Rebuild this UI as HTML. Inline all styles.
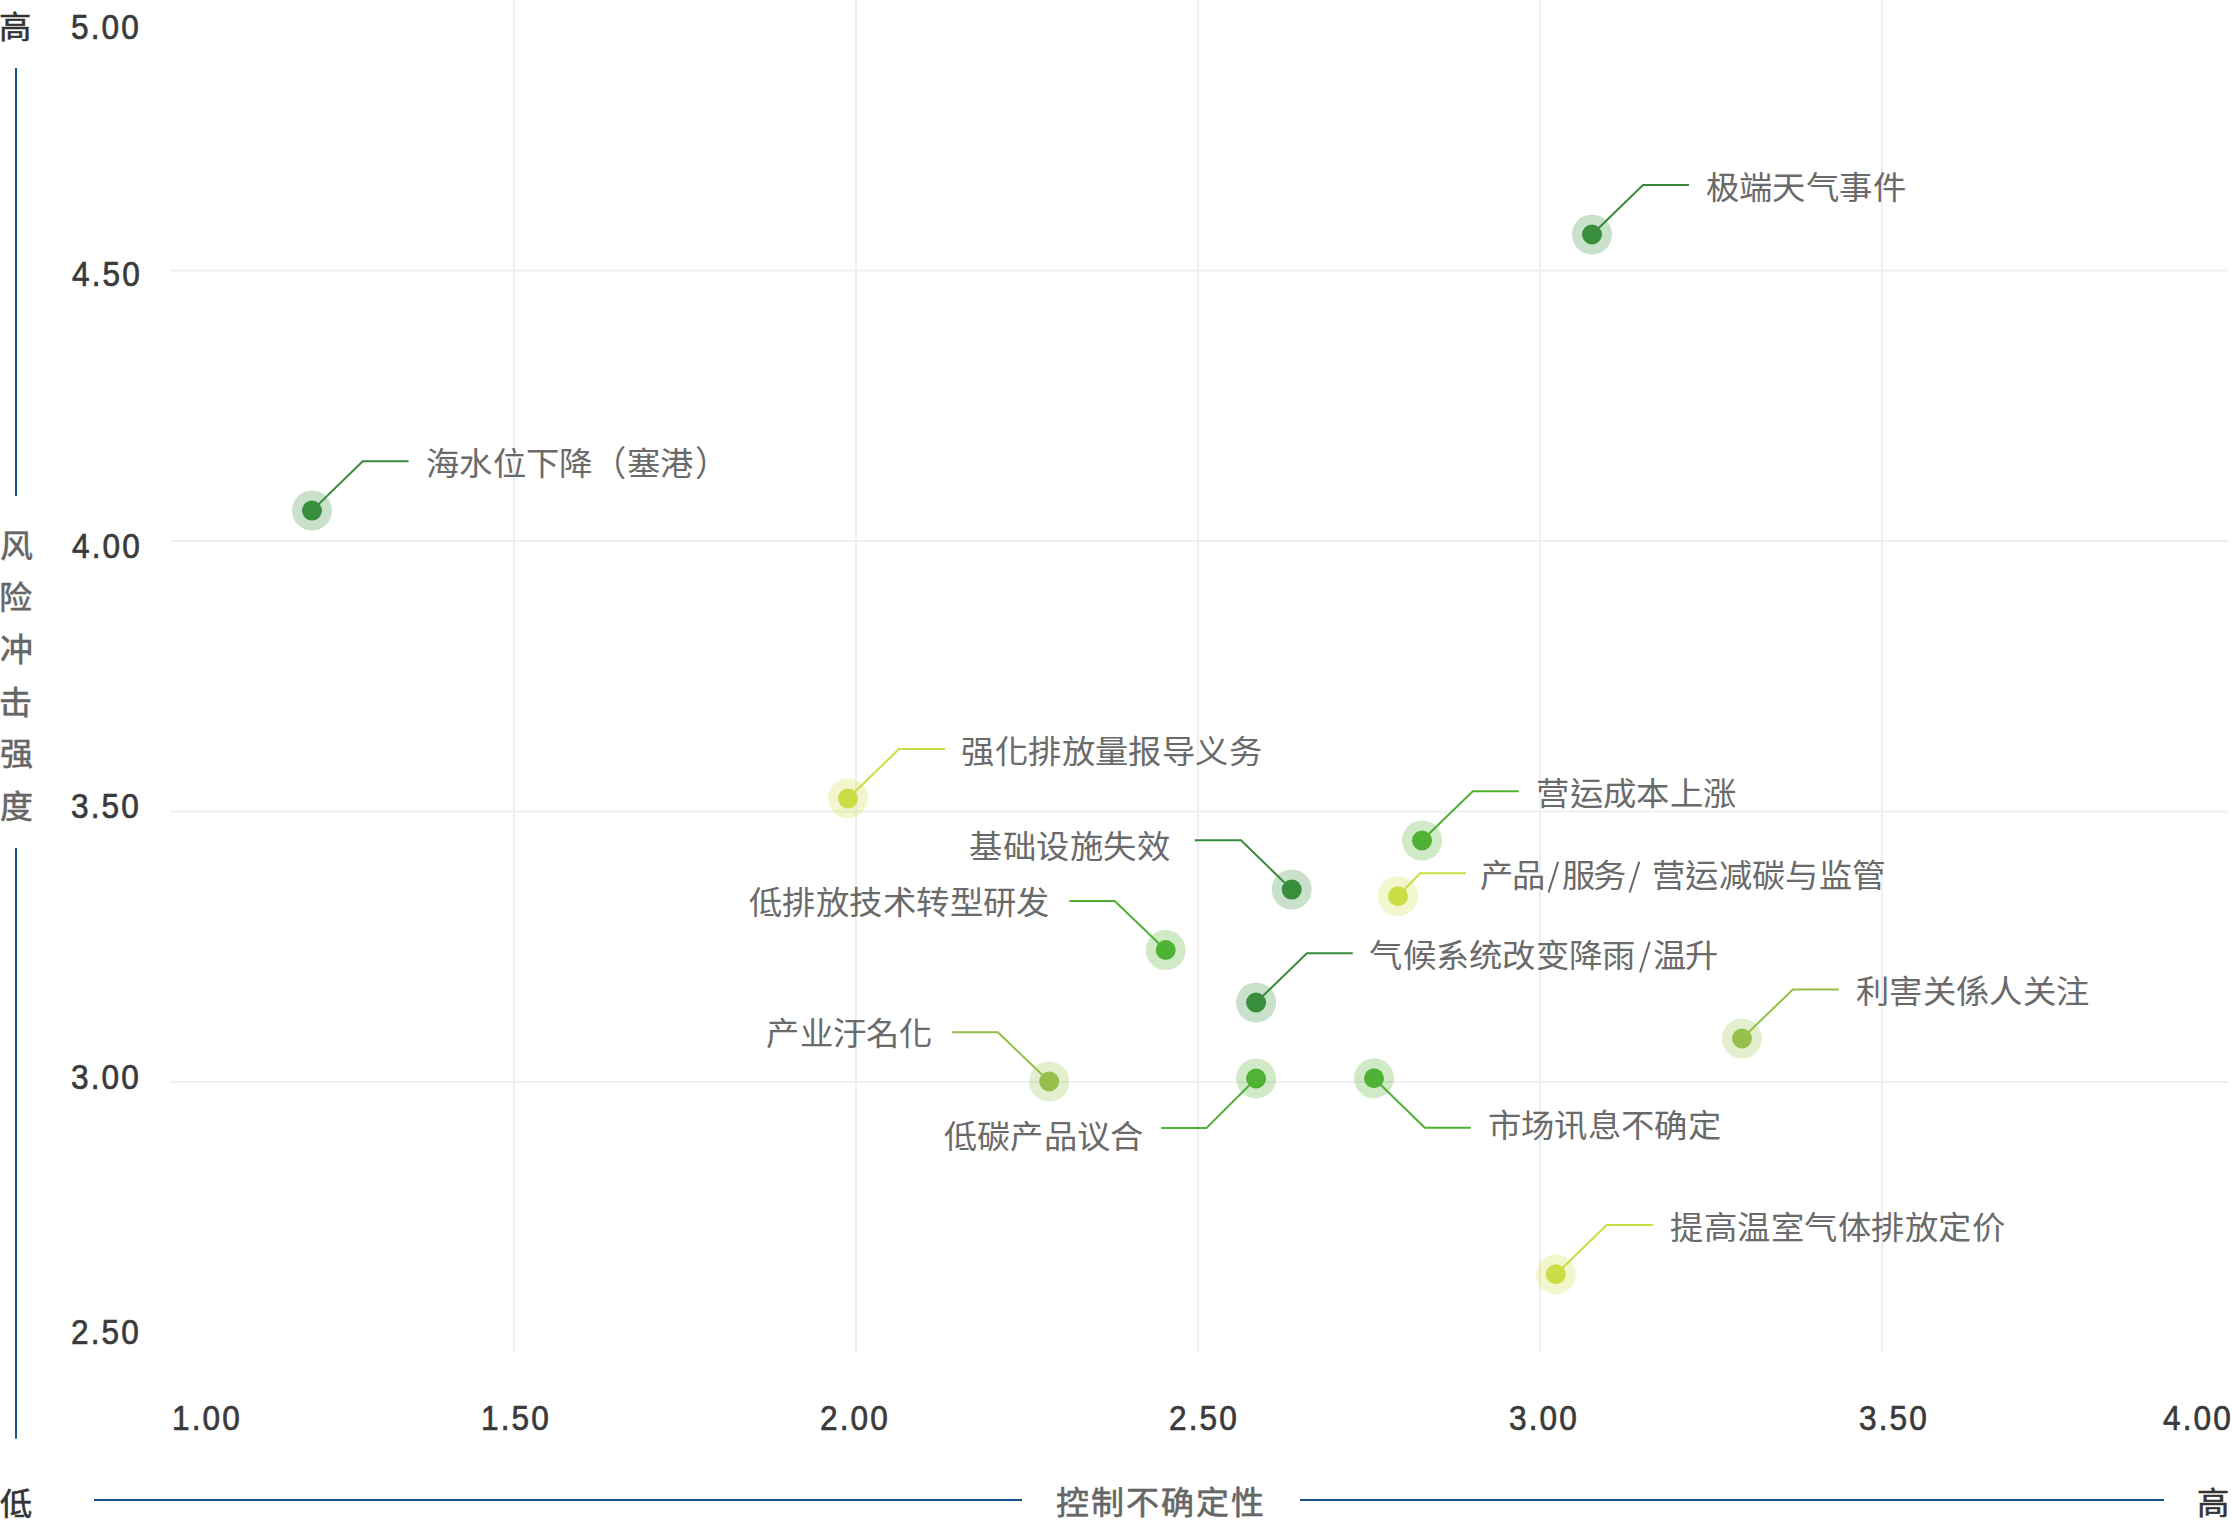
<!DOCTYPE html>
<html lang="zh-TW"><head><meta charset="utf-8"><style>
html,body{margin:0;padding:0;background:#fff;width:2232px;height:1524px;overflow:hidden}
body{position:relative;font-family:"Liberation Sans", sans-serif}
svg{position:absolute;left:0;top:0}
.t{position:absolute;white-space:nowrap}
</style></head><body>
<svg width="2232" height="1524" viewBox="0 0 2232 1524">
<line x1="170" y1="270.5" x2="2228" y2="270.5" stroke="#efefef" stroke-width="2"/>
<line x1="170" y1="541" x2="2228" y2="541" stroke="#efefef" stroke-width="2"/>
<line x1="170" y1="811.5" x2="2228" y2="811.5" stroke="#efefef" stroke-width="2"/>
<line x1="170" y1="1082" x2="2228" y2="1082" stroke="#efefef" stroke-width="2"/>
<line x1="514" y1="0" x2="514" y2="1353" stroke="#efefef" stroke-width="2"/>
<line x1="856" y1="0" x2="856" y2="1353" stroke="#efefef" stroke-width="2"/>
<line x1="1198" y1="0" x2="1198" y2="1353" stroke="#efefef" stroke-width="2"/>
<line x1="1540" y1="0" x2="1540" y2="1353" stroke="#efefef" stroke-width="2"/>
<line x1="1882" y1="0" x2="1882" y2="1353" stroke="#efefef" stroke-width="2"/>
<line x1="16" y1="68" x2="16" y2="496" stroke="#165289" stroke-width="2"/>
<line x1="16" y1="848" x2="16" y2="1438.5" stroke="#165289" stroke-width="2"/>
<line x1="94" y1="1500" x2="1022" y2="1500" stroke="#165289" stroke-width="2"/>
<line x1="1300" y1="1500" x2="2164" y2="1500" stroke="#165289" stroke-width="2"/>
<line x1="1548.5" y1="892.5" x2="1558.2" y2="861.8" stroke="#666666" stroke-width="2"/>
<line x1="1629.7" y1="892.5" x2="1639.3" y2="861.8" stroke="#666666" stroke-width="2"/>
<line x1="1640.1" y1="972.5" x2="1649.7" y2="941.8" stroke="#666666" stroke-width="2"/>
<circle cx="1592" cy="234.5" r="20" fill="rgba(56,142,60,0.27)"/>
<polyline points="1592,234.5 1643,185 1689,185" fill="none" stroke="#378a3b" stroke-width="2"/>
<circle cx="1592" cy="234.5" r="10" fill="#388e3c"/>
<circle cx="312" cy="510.6" r="20" fill="rgba(56,142,60,0.27)"/>
<polyline points="312,510.6 362.7,461.2 408.6,461.2" fill="none" stroke="#378a3b" stroke-width="2"/>
<circle cx="312" cy="510.6" r="10" fill="#388e3c"/>
<circle cx="848" cy="798.5" r="20" fill="rgba(205,221,72,0.27)"/>
<polyline points="848,798.5 899,749 945,749" fill="none" stroke="#cbdc44" stroke-width="2"/>
<circle cx="848" cy="798.5" r="10" fill="#cddd48"/>
<circle cx="1422" cy="840.5" r="20" fill="rgba(80,178,52,0.27)"/>
<polyline points="1422,840.5 1472.8,791.2 1518.7,791.2" fill="none" stroke="#4fb133" stroke-width="2"/>
<circle cx="1422" cy="840.5" r="10" fill="#50b234"/>
<circle cx="1398" cy="896.2" r="20" fill="rgba(205,221,72,0.27)"/>
<polyline points="1398,896.2 1420,873.2 1466,873.2" fill="none" stroke="#cbdc44" stroke-width="2"/>
<circle cx="1398" cy="896.2" r="10" fill="#cddd48"/>
<circle cx="1291.7" cy="889.6" r="20" fill="rgba(56,142,60,0.27)"/>
<polyline points="1291.7,889.6 1241,840.3 1194.8,840.3" fill="none" stroke="#378a3b" stroke-width="2"/>
<circle cx="1291.7" cy="889.6" r="10" fill="#388e3c"/>
<circle cx="1165.7" cy="950" r="20" fill="rgba(80,178,52,0.27)"/>
<polyline points="1165.7,950 1114.7,901 1069.3,901" fill="none" stroke="#4fb133" stroke-width="2"/>
<circle cx="1165.7" cy="950" r="10" fill="#50b234"/>
<circle cx="1256.1" cy="1002.5" r="20" fill="rgba(56,142,60,0.27)"/>
<polyline points="1256.1,1002.5 1306.9,953.3 1352.8,953.3" fill="none" stroke="#378a3b" stroke-width="2"/>
<circle cx="1256.1" cy="1002.5" r="10" fill="#388e3c"/>
<circle cx="1742" cy="1038.5" r="20" fill="rgba(150,192,76,0.27)"/>
<polyline points="1742,1038.5 1792.8,989.6 1838.9,989.6" fill="none" stroke="#94bf4a" stroke-width="2"/>
<circle cx="1742" cy="1038.5" r="10" fill="#96c04c"/>
<circle cx="1049.2" cy="1081.5" r="20" fill="rgba(150,192,76,0.27)"/>
<polyline points="1049.2,1081.5 997.9,1032.3 952.1,1032.3" fill="none" stroke="#94bf4a" stroke-width="2"/>
<circle cx="1049.2" cy="1081.5" r="10" fill="#96c04c"/>
<circle cx="1256.1" cy="1078.5" r="20" fill="rgba(80,178,52,0.27)"/>
<polyline points="1256.1,1078.5 1206.5,1127.9 1161.3,1127.9" fill="none" stroke="#4fb133" stroke-width="2"/>
<circle cx="1256.1" cy="1078.5" r="10" fill="#50b234"/>
<circle cx="1374" cy="1078.2" r="20" fill="rgba(80,178,52,0.27)"/>
<polyline points="1374,1078.2 1424.8,1127.8 1470.8,1127.8" fill="none" stroke="#4fb133" stroke-width="2"/>
<circle cx="1374" cy="1078.2" r="10" fill="#50b234"/>
<circle cx="1555.9" cy="1274.3" r="20" fill="rgba(205,221,72,0.27)"/>
<polyline points="1555.9,1274.3 1606.7,1225 1652.8,1225" fill="none" stroke="#cbdc44" stroke-width="2"/>
<circle cx="1555.9" cy="1274.3" r="10" fill="#cddd48"/>
</svg>
<div class="t" style="left:1705.70px;top:172.00px;font-size:33.3px;line-height:33.3px;color:#6a6a6a;transform:scaleY(0.95);transform-origin:0 50%;letter-spacing:0.40px;">极端天气事件</div>
<div class="t" style="left:426.00px;top:448.00px;font-size:33.3px;line-height:33.3px;color:#6a6a6a;transform:scaleY(0.95);transform-origin:0 50%;letter-spacing:0.25px;">海水位下降</div>
<div class="t" style="left:593.40px;top:447.20px;font-size:33.3px;line-height:33.3px;color:#6a6a6a;transform:scaleY(1.05);transform-origin:0 50%;">（</div>
<div class="t" style="left:627.20px;top:448.00px;font-size:33.3px;line-height:33.3px;color:#6a6a6a;transform:scaleY(0.95);transform-origin:0 50%;letter-spacing:-0.20px;">塞港</div>
<div class="t" style="left:694.70px;top:447.20px;font-size:33.3px;line-height:33.3px;color:#6a6a6a;transform:scaleY(1.05);transform-origin:0 50%;">）</div>
<div class="t" style="left:961.30px;top:736.30px;font-size:33.3px;line-height:33.3px;color:#6a6a6a;transform:scaleY(0.95);transform-origin:0 50%;letter-spacing:0.41px;">强化排放量报导义务</div>
<div class="t" style="left:1536.30px;top:778.20px;font-size:33.3px;line-height:33.3px;color:#6a6a6a;transform:scaleY(0.95);transform-origin:0 50%;letter-spacing:0.34px;">营运成本上涨</div>
<div class="t" style="left:1480.30px;top:860.20px;font-size:33.3px;line-height:33.3px;color:#6a6a6a;transform:scaleY(0.95);transform-origin:0 50%;letter-spacing:-1.40px;">产品</div>
<div class="t" style="left:1561.60px;top:860.20px;font-size:33.3px;line-height:33.3px;color:#6a6a6a;transform:scaleY(0.95);transform-origin:0 50%;letter-spacing:-1.20px;">服务</div>
<div class="t" style="left:1651.90px;top:860.20px;font-size:33.3px;line-height:33.3px;color:#6a6a6a;transform:scaleY(0.95);transform-origin:0 50%;letter-spacing:0.35px;">营运减碳与监管</div>
<div class="t" style="left:969.30px;top:830.60px;font-size:33.3px;line-height:33.3px;color:#6a6a6a;transform:scaleY(0.95);transform-origin:0 50%;letter-spacing:0.50px;">基础设施失效</div>
<div class="t" style="left:748.90px;top:886.50px;font-size:33.3px;line-height:33.3px;color:#6a6a6a;transform:scaleY(0.95);transform-origin:0 50%;letter-spacing:0.45px;">低排放技术转型研发</div>
<div class="t" style="left:1369.40px;top:940.30px;font-size:33.3px;line-height:33.3px;color:#6a6a6a;transform:scaleY(0.95);transform-origin:0 50%;letter-spacing:0.26px;">气候系统改变降雨</div>
<div class="t" style="left:1652.60px;top:940.00px;font-size:33.3px;line-height:33.3px;color:#6a6a6a;transform:scaleY(0.95);transform-origin:0 50%;letter-spacing:-0.60px;">温升</div>
<div class="t" style="left:1855.80px;top:976.10px;font-size:33.3px;line-height:33.3px;color:#6a6a6a;transform:scaleY(0.95);transform-origin:0 50%;letter-spacing:0.37px;">利害关係人关注</div>
<div class="t" style="left:766.40px;top:1018.20px;font-size:33.3px;line-height:33.3px;color:#6a6a6a;transform:scaleY(0.95);transform-origin:0 50%;letter-spacing:0.15px;">产业汙名化</div>
<div class="t" style="left:943.60px;top:1121.00px;font-size:33.3px;line-height:33.3px;color:#6a6a6a;transform:scaleY(0.95);transform-origin:0 50%;letter-spacing:0.32px;">低碳产品议合</div>
<div class="t" style="left:1487.60px;top:1110.20px;font-size:33.3px;line-height:33.3px;color:#6a6a6a;transform:scaleY(0.95);transform-origin:0 50%;letter-spacing:0.38px;">市场讯息不确定</div>
<div class="t" style="left:1670.20px;top:1211.90px;font-size:33.3px;line-height:33.3px;color:#6a6a6a;transform:scaleY(0.95);transform-origin:0 50%;letter-spacing:0.48px;">提高温室气体排放定价</div>
<div class="t" style="left:71.25px;top:9.50px;font-size:35.5px;line-height:35.5px;color:#3a3a3a;-webkit-text-stroke:0.7px #3a3a3a;letter-spacing:2.4px;transform:scaleX(0.89);transform-origin:0 0;">5.00</div>
<div class="t" style="left:71.75px;top:256.50px;font-size:35.5px;line-height:35.5px;color:#3a3a3a;-webkit-text-stroke:0.7px #3a3a3a;letter-spacing:2.4px;transform:scaleX(0.89);transform-origin:0 0;">4.50</div>
<div class="t" style="left:71.75px;top:528.50px;font-size:35.5px;line-height:35.5px;color:#3a3a3a;-webkit-text-stroke:0.7px #3a3a3a;letter-spacing:2.4px;transform:scaleX(0.89);transform-origin:0 0;">4.00</div>
<div class="t" style="left:71.25px;top:788.60px;font-size:35.5px;line-height:35.5px;color:#3a3a3a;-webkit-text-stroke:0.7px #3a3a3a;letter-spacing:2.4px;transform:scaleX(0.89);transform-origin:0 0;">3.50</div>
<div class="t" style="left:71.25px;top:1060.40px;font-size:35.5px;line-height:35.5px;color:#3a3a3a;-webkit-text-stroke:0.7px #3a3a3a;letter-spacing:2.4px;transform:scaleX(0.89);transform-origin:0 0;">3.00</div>
<div class="t" style="left:71.25px;top:1314.50px;font-size:35.5px;line-height:35.5px;color:#3a3a3a;-webkit-text-stroke:0.7px #3a3a3a;letter-spacing:2.4px;transform:scaleX(0.89);transform-origin:0 0;">2.50</div>
<div class="t" style="left:171.55px;top:1400.70px;font-size:35.5px;line-height:35.5px;color:#3a3a3a;-webkit-text-stroke:0.7px #3a3a3a;letter-spacing:2.4px;transform:scaleX(0.89);transform-origin:0 0;">1.00</div>
<div class="t" style="left:480.65px;top:1400.70px;font-size:35.5px;line-height:35.5px;color:#3a3a3a;-webkit-text-stroke:0.7px #3a3a3a;letter-spacing:2.4px;transform:scaleX(0.89);transform-origin:0 0;">1.50</div>
<div class="t" style="left:819.55px;top:1400.70px;font-size:35.5px;line-height:35.5px;color:#3a3a3a;-webkit-text-stroke:0.7px #3a3a3a;letter-spacing:2.4px;transform:scaleX(0.89);transform-origin:0 0;">2.00</div>
<div class="t" style="left:1169.25px;top:1400.70px;font-size:35.5px;line-height:35.5px;color:#3a3a3a;-webkit-text-stroke:0.7px #3a3a3a;letter-spacing:2.4px;transform:scaleX(0.89);transform-origin:0 0;">2.50</div>
<div class="t" style="left:1509.45px;top:1400.70px;font-size:35.5px;line-height:35.5px;color:#3a3a3a;-webkit-text-stroke:0.7px #3a3a3a;letter-spacing:2.4px;transform:scaleX(0.89);transform-origin:0 0;">3.00</div>
<div class="t" style="left:1859.05px;top:1400.70px;font-size:35.5px;line-height:35.5px;color:#3a3a3a;-webkit-text-stroke:0.7px #3a3a3a;letter-spacing:2.4px;transform:scaleX(0.89);transform-origin:0 0;">3.50</div>
<div class="t" style="left:2162.95px;top:1400.70px;font-size:35.5px;line-height:35.5px;color:#3a3a3a;-webkit-text-stroke:0.7px #3a3a3a;letter-spacing:2.4px;transform:scaleX(0.89);transform-origin:0 0;">4.00</div>
<div class="t" style="left:-0.93px;top:12.40px;font-size:32.3px;line-height:32.3px;color:#333333;-webkit-text-stroke:0.6px #333333;transform:scaleY(0.95);transform-origin:0 50%;">高</div>
<div class="t" style="left:0.00px;top:1488.50px;font-size:32.3px;line-height:32.3px;color:#333333;-webkit-text-stroke:0.6px #333333;transform:scaleY(0.95);transform-origin:0 50%;">低</div>
<div class="t" style="left:2197.00px;top:1487.50px;font-size:32.3px;line-height:32.3px;color:#333333;-webkit-text-stroke:0.6px #333333;transform:scaleY(0.95);transform-origin:0 50%;">高</div>
<div class="t" style="left:0.00px;top:529.90px;font-size:33px;line-height:33px;color:#666666;-webkit-text-stroke:0.6px #666666;transform:scaleY(0.95);transform-origin:0 50%;">风</div>
<div class="t" style="left:-1.00px;top:582.10px;font-size:33px;line-height:33px;color:#666666;-webkit-text-stroke:0.6px #666666;transform:scaleY(0.95);transform-origin:0 50%;">险</div>
<div class="t" style="left:0.00px;top:634.00px;font-size:33px;line-height:33px;color:#666666;-webkit-text-stroke:0.6px #666666;transform:scaleY(0.95);transform-origin:0 50%;">冲</div>
<div class="t" style="left:-1.00px;top:687.00px;font-size:33px;line-height:33px;color:#666666;-webkit-text-stroke:0.6px #666666;transform:scaleY(0.95);transform-origin:0 50%;">击</div>
<div class="t" style="left:0.00px;top:738.10px;font-size:33px;line-height:33px;color:#666666;-webkit-text-stroke:0.6px #666666;transform:scaleY(0.95);transform-origin:0 50%;">强</div>
<div class="t" style="left:0.00px;top:790.80px;font-size:33px;line-height:33px;color:#666666;-webkit-text-stroke:0.6px #666666;transform:scaleY(0.95);transform-origin:0 50%;">度</div>
<div class="t" style="left:1055.80px;top:1487.30px;font-size:33px;line-height:33px;color:#666666;-webkit-text-stroke:0.6px #666666;transform:scaleY(0.95);transform-origin:0 50%;letter-spacing:2.02px;">控制不确定性</div>
</body></html>
